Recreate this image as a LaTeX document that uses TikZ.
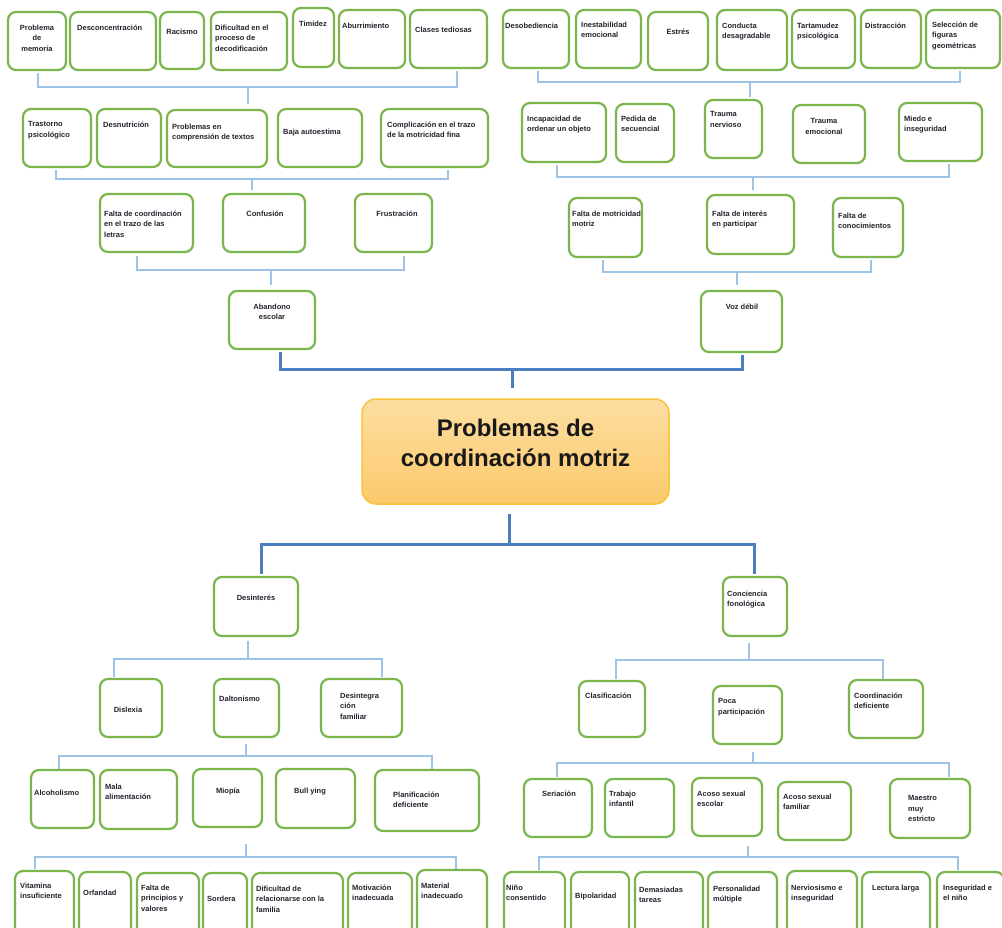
\documentclass[tikz,border=0pt]{standalone}
\usepackage{fontspec}
\setmainfont{Liberation Sans}
\usetikzlibrary{calc}
\definecolor{boxgreen}{RGB}{122,182,76}
\definecolor{lblue}{RGB}{157,195,230}
\definecolor{dblue}{RGB}{74,126,193}
\definecolor{txtc}{RGB}{35,35,45}
\definecolor{ctop}{RGB}{253,222,160}
\definecolor{cbot}{RGB}{251,201,108}
\definecolor{cborder}{RGB}{250,196,64}
\tikzset{
  boxst/.style={draw=boxgreen, line width=2.2pt, rounded corners=8pt, fill=white, inner sep=0pt},
  txt/.style={font=\fontsize{7.5}{10.5}\selectfont\bfseries, text=txtc, inner sep=0pt},
  tl/.style={anchor=north west, align=left},
  tc/.style={anchor=north, align=center},
  lconn/.style={draw=lblue, line width=2.2pt},
  dconn/.style={draw=dblue, line width=3pt},
  centst/.style={draw=cborder, line width=1.5pt, rounded corners=14pt, top color=ctop, bottom color=cbot, inner sep=0pt},
  ctext/.style={font=\fontsize{24}{30}\selectfont\bfseries, text=black!90, align=center, inner sep=0pt}
}
% name, x1, y1, x2, y2, align style, text x, first line y, text
\newcommand\mybox[9]{%
  \node[boxst, minimum width={#4pt-#2pt}, minimum height={#5pt-#3pt}] (#1) at ({(#2+#4)/2},{(#3+#5)/2}) {};
  \node[txt,#6] (#1t) at (#7,{#8-3.5}) {#9};
}
\begin{document}
\begin{tikzpicture}[x=1pt,y=-1pt]
\useasboundingbox (0,0) rectangle (1002,927);
\fill[white] (0,0) rectangle (1002,927);
\clip (0,0) rectangle (1002,927);

% ---------- top-left row 1
\mybox{pm}{8}{12}{66}{70}{tc}{37}{28}{Problema\\de\\memoria}
\mybox{dc}{70}{12}{156}{70}{tl}{77}{28}{Desconcentración}
\mybox{rc}{160}{12}{204}{69}{tc}{182}{32}{Racismo}
\mybox{dd}{211}{12}{287}{70}{tl}{215}{28}{Dificultad en el\\proceso de\\decodificación}
\mybox{tm}{293}{8}{334}{67}{tc}{313}{24}{Timidez}
\mybox{abu}{339}{10}{405}{68}{tl}{342}{26}{Aburrimiento}
\mybox{ct}{410}{10}{487}{68}{tl}{415}{30}{Clases tediosas}

% ---------- top-right row 1
\mybox{dsb}{503}{10}{569}{68}{tl}{505}{26}{Desobediencia}
\mybox{ie}{576}{10}{641}{68}{tl}{581}{25}{Inestabilidad\\emocional}
\mybox{es}{648}{12}{708}{70}{tc}{678}{32}{Estrés}
\mybox{cd}{717}{10}{787}{70}{tl}{722}{26}{Conducta\\desagradable}
\mybox{tp}{792}{10}{855}{68}{tl}{797}{26}{Tartamudez\\psicológica}
\mybox{di}{861}{10}{921}{68}{tl}{865}{26}{Distracción}
\mybox{sel}{926}{10}{1000}{68}{tl}{932}{25}{Selección de\\figuras\\geométricas}

% ---------- row 2 left
\mybox{tps}{23}{109}{91}{167}{tl}{28}{125}{Trastorno\\psicológico}
\mybox{dn}{97}{109}{161}{167}{tl}{103}{125}{Desnutrición}
\mybox{pc}{167}{110}{267}{167}{tl}{172}{127}{Problemas en\\comprensión de textos}
\mybox{ba}{278}{109}{362}{167}{tl}{283}{132}{Baja autoestima}
\mybox{cmp}{381}{109}{488}{167}{tl}{387}{125}{Complicación en el trazo\\de la motricidad fina}

% ---------- row 2 right
\mybox{inc}{522}{103}{606}{162}{tl}{527}{119}{Incapacidad de\\ordenar un objeto}
\mybox{pds}{616}{104}{674}{162}{tl}{621}{119}{Pedida de\\secuencial}
\mybox{tn}{705}{100}{762}{158}{tl}{710}{115}{Trauma\\nervioso}
\mybox{te}{793}{105}{865}{163}{tc}{824}{122}{Trauma\\emocional}
\mybox{mie}{899}{103}{982}{161}{tl}{904}{119}{Miedo e\\inseguridad}

% ---------- row 3 left
\mybox{fco}{100}{194}{193}{252}{tl}{104}{214}{Falta de coordinación\\en el trazo de las\\letras}
\mybox{cf}{223}{194}{305}{252}{tc}{265}{214}{Confusión}
\mybox{fru}{355}{194}{432}{252}{tc}{397}{214}{Frustración}
\mybox{ab}{229}{291}{315}{349}{tc}{272}{307}{Abandono\\escolar}

% ---------- row 3 right
\mybox{fmm}{569}{198}{642}{257}{tl}{572}{214}{Falta de motricidad\\motriz}
\mybox{fip}{707}{195}{794}{254}{tl}{712}{214}{Falta de interés\\en participar}
\mybox{fcn}{833}{198}{903}{257}{tl}{838}{216}{Falta de\\conocimientos}
\mybox{vd}{701}{291}{782}{352}{tc}{742}{307}{Voz débil}

% ---------- central
\node[centst, minimum width=307pt, minimum height=105pt] (cen) at (515.5,451.5) {};
\node[ctext] (cent) at (515.5,443) {Problemas de\\coordinación motriz};

% ---------- bottom level 1-2
\mybox{des}{214}{577}{298}{636}{tc}{256}{598}{Desinterés}
\mybox{con}{723}{577}{787}{636}{tl}{727}{594}{Conciencia\\fonológica}
\mybox{dis}{100}{679}{162}{737}{tc}{128}{710}{Dislexia}
\mybox{dal}{214}{679}{279}{737}{tl}{219}{699}{Daltonismo}
\mybox{dfa}{321}{679}{402}{737}{tl}{340}{696}{Desintegra\\ción\\familiar}
\mybox{cla}{579}{681}{645}{737}{tl}{585}{696}{Clasificación}
\mybox{pp}{713}{686}{782}{744}{tl}{718}{702}{Poca\\participación}
\mybox{cde}{849}{680}{923}{738}{tl}{854}{696}{Coordinación\\deficiente}

% ---------- row 4 left
\mybox{alc}{31}{770}{94}{828}{tl}{34}{793}{Alcoholismo}
\mybox{mal}{100}{770}{177}{829}{tl}{105}{787}{Mala\\alimentación}
\mybox{mio}{193}{769}{262}{827}{tc}{228}{791}{Miopía}
\mybox{bul}{276}{769}{355}{828}{tl}{294}{791}{Bull ying}
\mybox{pla}{375}{770}{479}{831}{tl}{393}{795}{Planificación\\deficiente}

% ---------- row 4 right
\mybox{ser}{524}{779}{592}{837}{tc}{559}{794}{Seriación}
\mybox{tri}{605}{779}{674}{837}{tl}{609}{794}{Trabajo\\infantil}
\mybox{ase}{692}{778}{762}{836}{tl}{697}{794}{Acoso sexual\\escolar}
\mybox{asf}{778}{782}{851}{840}{tl}{783}{797}{Acoso sexual\\familiar}
\mybox{mae}{890}{779}{970}{838}{tl}{908}{799}{Maestro\\muy\\estricto}

% ---------- row 5 left
\mybox{vit}{15}{871}{74}{945}{tl}{20}{886}{Vitamina\\insuficiente}
\mybox{orf}{79}{872}{131}{945}{tl}{83}{893}{Orfandad}
\mybox{fpv}{137}{873}{199}{945}{tl}{141}{888}{Falta de\\principios y\\valores}
\mybox{sor}{203}{873}{247}{945}{tl}{207}{899}{Sordera}
\mybox{drf}{252}{873}{343}{945}{tl}{256}{889}{Dificultad de\\relacionarse con la\\familia}
\mybox{mot}{348}{873}{412}{945}{tl}{352}{888}{Motivación\\inadecuada}
\mybox{mat}{417}{870}{487}{945}{tl}{421}{886}{Material\\inadecuado}

% ---------- row 5 right
\mybox{nin}{504}{872}{565}{945}{tl}{506}{888}{Niño\\consentido}
\mybox{bip}{571}{872}{629}{945}{tl}{575}{896}{Bipolaridad}
\mybox{dem}{635}{872}{703}{945}{tl}{639}{890}{Demasiadas\\tareas}
\mybox{per}{708}{872}{777}{945}{tl}{713}{889}{Personalidad\\múltiple}
\mybox{ner}{787}{871}{857}{945}{tl}{791}{888}{Nerviosismo e\\inseguridad}
\mybox{lec}{862}{872}{930}{945}{tl}{872}{888}{Lectura larga}
\mybox{ins}{937}{872}{1004}{945}{tl}{943}{888}{Inseguridad e\\el niño}

% ---------- junctions
\coordinate (j1) at (248,87);
\coordinate (j2) at (750,82);
\coordinate (j3) at (252,179);
\coordinate (j4) at (753,177);
\coordinate (j5) at (271,270);
\coordinate (j6) at (737,272);
\coordinate (j7) at (512,369);
\coordinate (j8) at (509,544);
\coordinate (j9) at (248,659);
\coordinate (j10) at (749,660);
\coordinate (j11) at (246,756);
\coordinate (j12) at (753,763);
\coordinate (j13) at (246,857);
\coordinate (j14) at (748,857);

% ---------- connectors (top)
\draw[lconn] ($(pm.south)+(1,2)$) |- (j1) -| ($(ct.south)+(8.5,2)$);
\draw[lconn] (j1) -- ++(0,17);
\draw[lconn] ($(dsb.south)+(2,2)$) |- (j2) -| ($(sel.south)+(-3,2)$);
\draw[lconn] (j2) -- ++(0,15);
\draw[lconn] ($(tps.south)+(-1,2)$) |- (j3) -| ($(cmp.south)+(13.5,2)$);
\draw[lconn] (j3) -- ++(0,11);
\draw[lconn] ($(inc.south)+(-7,2)$) |- (j4) -| ($(mie.south)+(8.5,2)$);
\draw[lconn] (j4) -- ++(0,13);
\draw[lconn] ($(fco.south)+(-9.5,3)$) |- (j5) -| ($(fru.south)+(10.5,3)$);
\draw[lconn] (j5) -- ++(0,15);
\draw[lconn] ($(fmm.south)+(-2.5,2)$) |- (j6) -| ($(fcn.south)+(3,2)$);
\draw[lconn] (j6) -- ++(0,13);
\draw[dconn] ($(ab.south)+(8,2)$) |- (j7) -| ($(vd.south)+(0.5,2)$);
\draw[dconn] (j7) -- ++(0,19);

% ---------- connectors (bottom)
\draw[dconn] ($(cen.south)+(-6.5,9)$) -- (j8);
\draw[dconn] ($(des.north)+(5,-2)$) |- (j8) -| ($(con.north)+(-1,-2)$);
\draw[lconn] ($(des.south)+(-8,4)$) -- (j9);
\draw[lconn] ($(dis.north)+(-17,-1)$) |- (j9) -| ($(dfa.north)+(20.5,-1)$);
\draw[lconn] ($(con.south)+(-6,6)$) -- (j10);
\draw[lconn] ($(cla.north)+(4,-1)$) |- (j10) -| ($(cde.north)+(-3,0)$);
\draw[lconn] ($(dal.south)+(-0.5,6)$) -- (j11);
\draw[lconn] ($(alc.north)+(-3.5,0)$) |- (j11) -| ($(pla.north)+(5,0)$);
\draw[lconn] ($(pp.south)+(5.5,7)$) -- (j12);
\draw[lconn] ($(ser.north)+(-1,-1)$) |- (j12) -| ($(mae.north)+(19,-1)$);
\draw[lconn] ($(mio.south)+(18.5,16)$) -- (j13);
\draw[lconn] ($(vit.north)+(-9.5,-1)$) |- (j13) -| ($(mat.north)+(4,0)$);
\draw[lconn] ($(ase.south)+(21,9)$) -- (j14);
\draw[lconn] ($(nin.north)+(4.5,-1)$) |- (j14) -| ($(ins.north)+(-12.5,-1)$);
\end{tikzpicture}
\end{document}
